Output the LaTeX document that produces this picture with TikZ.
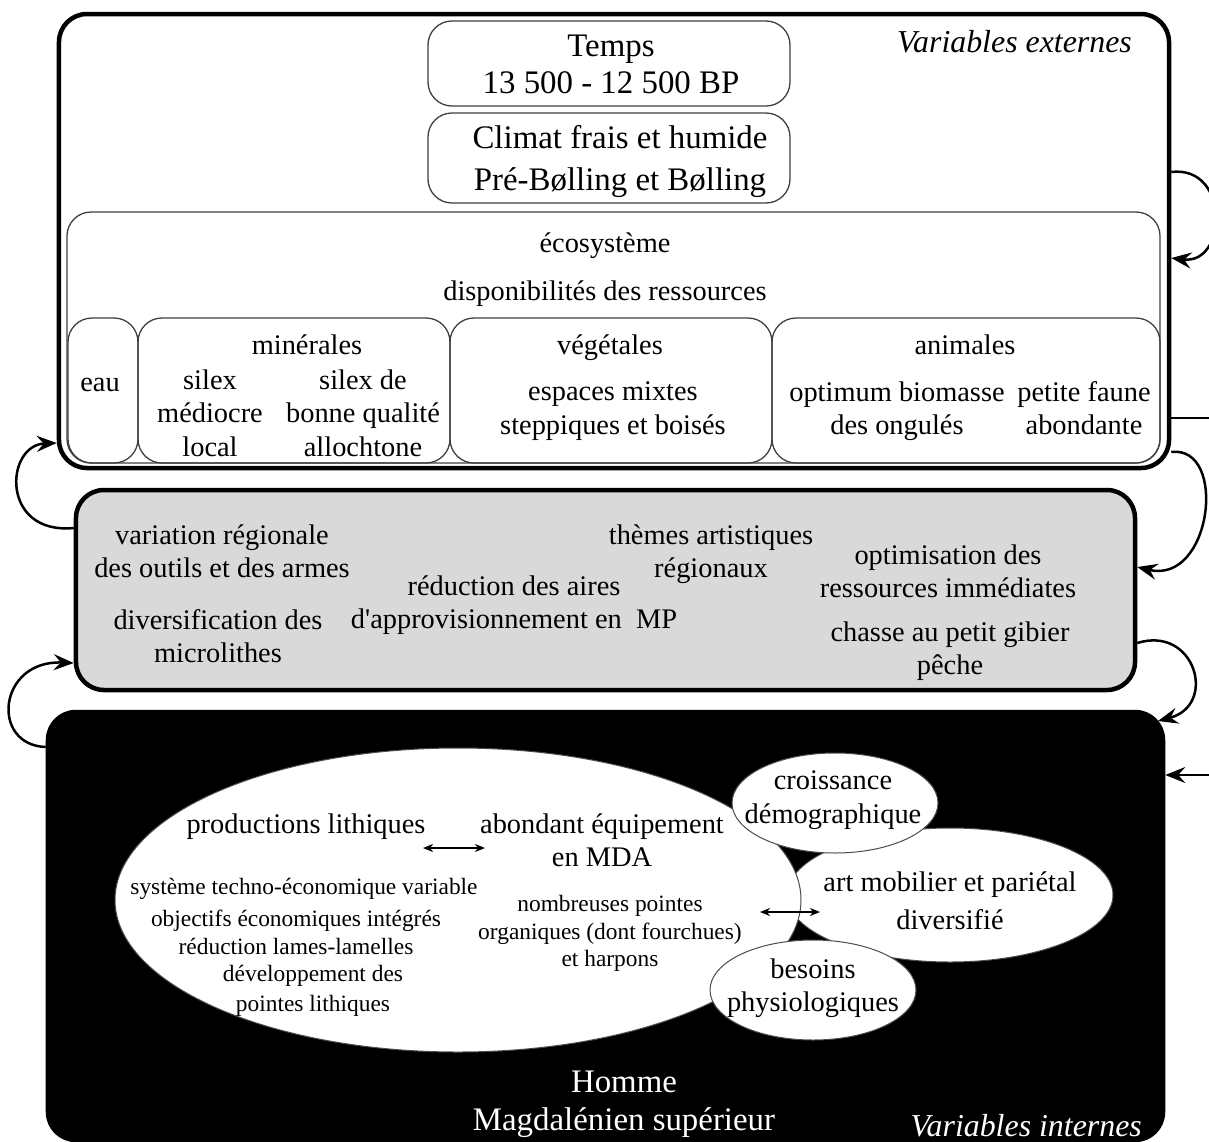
\documentclass[tikz,border=0pt]{standalone}
\usepackage{fontspec}
\setmainfont{Liberation Serif}
\usetikzlibrary{arrows.meta,shapes.geometric}
\definecolor{boxgrey}{HTML}{D9D9D9}
\begin{document}
\begin{tikzpicture}[x=1bp,y=-1bp,
  bigbox/.style={draw, line width=4.5bp, rounded corners=28bp, rectangle, inner sep=0pt},
  thinbox/.style={draw=black!75, line width=1.3bp, rounded corners=24bp, rectangle, inner sep=0pt},
  txt/.style={align=center, inner sep=0pt, yshift=-5bp, execute at begin node=\strut, execute at end node=\strut},
  txtL/.style={txt, font=\fontsize{33}{40}\selectfont},
  txtM/.style={txt, font=\fontsize{28.5}{33.5}\selectfont},
  txtS/.style={txt, font=\fontsize{23.5}{28}\selectfont},
  oval/.style={ellipse, draw=black!70, line width=1bp, fill=white, inner sep=0pt},
  loopar/.style={line width=2.5bp, -{Stealth[length=20bp,width=16bp,inset=7bp]}},
  dblar/.style={line width=1.6bp, {Stealth[length=10bp,width=8bp,inset=3bp]}-{Stealth[length=10bp,width=8bp,inset=3bp]}}
]
\useasboundingbox (0,0) rectangle (1209,1142);
\fill[white] (0,0) rectangle (1209,1142);

% ---------- external variables box ----------
\node[bigbox, fill=white, minimum width=1110bp, minimum height=454bp] (ext) at (614,241) {};
\node[thinbox, minimum width=1093bp, minimum height=251bp] (eco) at (613.5,337.5) {};
\node[thinbox, minimum width=70bp, minimum height=145bp] (eau) at (103,390.5) {};
\node[thinbox, minimum width=312bp, minimum height=145bp] (min) at (294,390.5) {};
\node[thinbox, minimum width=322bp, minimum height=145bp] (veg) at (611,390.5) {};
\node[thinbox, minimum width=388bp, minimum height=145bp] (ani) at (966,390.5) {};
\node[thinbox, minimum width=362bp, minimum height=85bp] (temps) at (609,63.5) {};
\node[thinbox, minimum width=362bp, minimum height=90bp] (climat) at (609,158) {};

\node[txtL, font=\fontsize{33}{37}\selectfont] (tTemps) at (611,65) {Temps\\13 500 - 12 500 BP};
\node[txtL, font=\fontsize{33}{42}\selectfont] (tClimat) at (620,159) {Climat frais et humide\\Pré-Bølling et Bølling};
\node[txtL, font=\fontsize{32}{40}\selectfont\itshape, anchor=east] (tVE) at (1132,40) {Variables externes};
\node[txtM] (tEco) at (605,241) {écosystème};
\node[txtM] (tDisp) at (605,289) {disponibilités des ressources};
\node[txtM] (tEau) at (100,380) {eau};
\node[txtM] (tMin) at (307,343) {minérales};
\node[txtM] (tSil1) at (210,413) {silex\\médiocre\\local};
\node[txtM] (tSil2) at (363,413) {silex de\\bonne qualité\\allochtone};
\node[txtM] (tVeg) at (610,343) {végétales};
\node[txtM] (tEsp) at (613,408) {espaces mixtes\\steppiques et boisés};
\node[txtM] (tAni) at (965,343) {animales};
\node[txtM] (tOpt) at (897,408) {optimum biomasse\\des ongulés};
\node[txtM] (tPet) at (1084,408) {petite faune\\abondante};

% ---------- grey box ----------
\node[bigbox, fill=boxgrey, minimum width=1059bp, minimum height=200bp] (mid) at (605.5,590) {};
\node[txtM] (tVar) at (222,551) {variation régionale\\des outils et des armes};
\node[txtM] (tDiv) at (218,636) {diversification des\\microlithes};
\node[txtM] (tThe) at (711,551) {thèmes artistiques\\régionaux};
\node[txtM] (tRed) at (514,602) {réduction des aires\\d\textquotesingle approvisionnement en\ \ MP};
\node[txtM] (tOpti) at (948,571) {optimisation des\\ressources immédiates};
\node[txtM] (tCha) at (950,648) {chasse au petit gibier\\pêche};

% ---------- black box ----------
\node[bigbox, fill=black, minimum width=1115bp, minimum height=428bp] (blk) at (605.5,926) {};
\node[oval, minimum width=326bp, minimum height=134bp] (art) at (950,895) {};
\node[oval, minimum width=686bp, minimum height=304bp] (big) at (458,900) {};
\node[oval, minimum width=206bp, minimum height=100bp] (cro) at (835,803) {};
\node[oval, minimum width=206bp, minimum height=100bp] (bes) at (813,990) {};

\node[txtM] (tProd) at (306,822) {productions lithiques};
\node[txtM] (tAbo) at (602,840) {abondant équipement\\en MDA};
\node[txtS] (tSys) at (304,884) {système techno-économique variable};
\node[txtS] (tObj) at (296,931) {objectifs économiques intégrés\\réduction lames-lamelles};
\node[txtS, font=\fontsize{23.5}{30}\selectfont] (tDev) at (313,988) {développement des\\pointes lithiques};
\node[txtS, font=\fontsize{23.5}{27.5}\selectfont] (tNom) at (610,930) {nombreuses pointes\\organiques (dont fourchues)\\et harpons};
\node[txtM] (tCro) at (833,797) {croissance\\démographique};
\node[txtM, font=\fontsize{28.5}{38}\selectfont] (tArt) at (950,901) {art mobilier et pariétal\\diversifié};
\node[txtM] (tBes) at (813,985) {besoins\\physiologiques};
\node[txtL, text=white, font=\fontsize{33}{38}\selectfont] (tHom) at (624,1101) {Homme\\Magdalénien supérieur};
\node[inner sep=0pt, text=white, font=\fontsize{32}{40}\selectfont\itshape, anchor=base east] (tVI) at (1142,1136) {Variables internes};

% ---------- double arrows ----------
\coordinate (d1a) at (423,848);
\coordinate (d1b) at (485,848);
\coordinate (d2a) at (760,912);
\coordinate (d2b) at (820,912);
\draw[dblar] (d1a) -- (d1b);
\draw[dblar] (d2a) -- (d2b);

% ---------- feedback connectors ----------
\coordinate (offA) at (1215,418);
\coordinate (offB) at (1215,775);
\coordinate (blkc) at (1158,721);
\draw[loopar] (ext.east |- 0,172) .. controls (1230,165) and (1228,265) .. (ext.east |- 0,258);
\draw[line width=2.5bp] (ext.east |- 0,418) -- (offA);
\draw[loopar] (ext.east |- 0,452) .. controls (1228,445) and (1212,585) .. (mid.east |- 0,567);
\draw[loopar] (mid.east |- 0,643) .. controls (1195,625) and (1218,705) .. (blkc);
\draw[loopar] (offB) -- (blk.east |- 0,775);
\draw[loopar] (mid.west |- 0,528) .. controls (0,535) and (5,445) .. (ext.west |- 0,443);
\draw[loopar] (blk.west |- 0,747) .. controls (-10,745) and (-2,660) .. (mid.west |- 0,663);
\end{tikzpicture}
\end{document}
